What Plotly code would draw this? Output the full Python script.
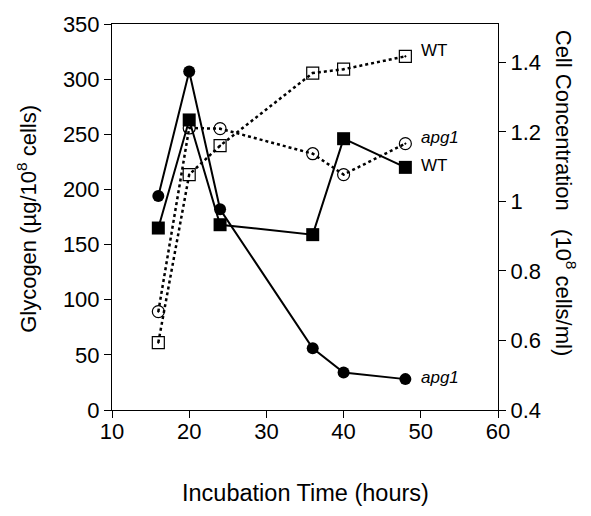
import plotly.graph_objects as go

# hours sampled
hours = [16, 20, 24, 36, 40, 48]

# glycogen (ug / 10^8 cells), left axis
glycogen_wt = [165, 263, 168, 159, 246, 220]
glycogen_apg1 = [194, 307, 182, 56, 34, 28]

# cell concentration (10^8 cells/ml), right axis
cells_wt = [0.594, 1.077, 1.16, 1.369, 1.38, 1.417]
cells_apg1 = [0.683, 1.211, 1.209, 1.137, 1.077, 1.166]

FONT = "Liberation Sans, Arial, sans-serif"

fig = go.Figure()

# cell concentration (dotted, open markers) drawn first
fig.add_trace(go.Scatter(
    x=hours, y=cells_apg1, yaxis="y2", mode="lines+markers",
    line=dict(color="black", width=2.5, dash="dot"),
    marker=dict(symbol="circle-open-dot", size=12, color="black",
                line=dict(width=1.2)),
))
fig.add_trace(go.Scatter(
    x=hours, y=cells_wt, yaxis="y2", mode="lines+markers",
    line=dict(color="black", width=2.5, dash="dot"),
    marker=dict(symbol="square-open-dot", size=12, color="black",
                line=dict(width=1.2)),
))

# glycogen (solid, filled markers)
fig.add_trace(go.Scatter(
    x=hours, y=glycogen_apg1, mode="lines+markers",
    line=dict(color="black", width=2),
    marker=dict(symbol="circle", size=12, color="black"),
))
fig.add_trace(go.Scatter(
    x=hours, y=glycogen_wt, mode="lines+markers",
    line=dict(color="black", width=2),
    marker=dict(symbol="square", size=13, color="black"),
))

# series labels
labels = [
    ("WT", hours[-1], cells_wt[-1], "y2", False),
    ("apg1", hours[-1], cells_apg1[-1], "y2", True),
    ("WT", hours[-1], glycogen_wt[-1], "y", False),
    ("apg1", hours[-1], glycogen_apg1[-1], "y", True),
]
for txt, xv, yv, yref, ital in labels:
    fig.add_annotation(
        x=xv, y=yv, xref="x", yref=yref,
        text=f"<i>{txt}</i>" if ital else txt,
        showarrow=False, xanchor="left", xshift=14, yshift=6 if yref == "y2" else 2,
        font=dict(family=FONT, size=17, color="black"),
    )

# axis titles
fig.add_annotation(
    x=-0.222, y=0.496, xref="paper", yref="paper", textangle=-90,
    xanchor="center", yanchor="middle",
    text="Glycogen (µg/10<sup>8</sup> cells)", showarrow=False,
    font=dict(family=FONT, size=22, color="black"),
)
fig.add_annotation(
    x=1.176, y=0.563, xref="paper", yref="paper", textangle=90,
    xanchor="center", yanchor="middle",
    text="Cell Concentration   (10<sup>8</sup> cells/ml)", showarrow=False,
    font=dict(family=FONT, size=22, color="black"),
)
fig.add_annotation(
    x=0.5, y=-0.216, xref="paper", yref="paper",
    xanchor="center", yanchor="middle",
    text="Incubation Time (hours)", showarrow=False,
    font=dict(family=FONT, size=23.5, color="black"),
)

axis_common = dict(
    showgrid=False, zeroline=False, showline=True, linecolor="black",
    linewidth=1, ticks="outside", ticklen=7, tickcolor="black",
    tickfont=dict(family=FONT, size=22, color="black"),
)

fig.update_layout(
    width=591, height=516,
    margin=dict(l=112, r=93, t=21, b=106),
    paper_bgcolor="white", plot_bgcolor="white",
    showlegend=False,
    xaxis=dict(range=[10, 60], tickvals=[10, 20, 30, 40, 50, 60],
               mirror=True, ticklabelstandoff=-5, **axis_common),
    yaxis=dict(range=[0, 350], tickvals=[0, 50, 100, 150, 200, 250, 300, 350],
               **axis_common),
    yaxis2=dict(range=[0.4, 1.51], tickvals=[0.4, 0.6, 0.8, 1.0, 1.2, 1.4],
                ticktext=["0.4", "0.6", "0.8", "1", "1.2", "1.4"],
                overlaying="y", side="right", **axis_common),
)

# drop the browser's default body margin so the figure sits at the page corner
fig.write_html("out.html", config={"displayModeBar": False},
               post_script="document.body.style.margin='0px';")
